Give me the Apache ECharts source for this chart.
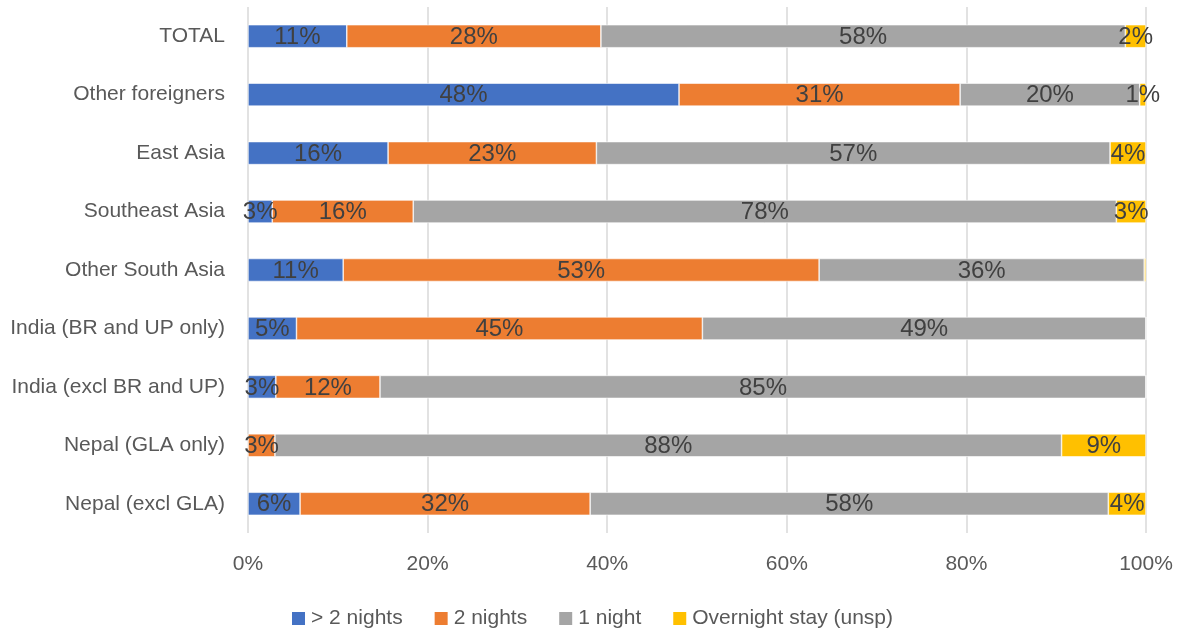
<!DOCTYPE html>
<html>
<head>
<meta charset="utf-8">
<script src="https://cdn.jsdelivr.net/npm/echarts@6/dist/echarts.min.js"></script>
<style>
  html, body { margin: 0; padding: 0; background: #fff; }
  #chart { width: 1183px; height: 630px; }
</style>
</head>
<body>
<div id="chart"></div>
<script>
// categories, top to bottom
const categories = [
    "TOTAL",
    "Other foreigners",
    "East Asia",
    "Southeast Asia",
    "Other South Asia",
    "India (BR and UP only)",
    "India (excl BR and UP)",
    "Nepal (GLA only)",
    "Nepal (excl GLA)",
];
const seriesNames = ["> 2 nights", "2 nights", "1 night", "Overnight stay (unsp)"];
// shares in %
const moreThanTwo = [11.0, 48.0, 15.6, 2.7, 10.6, 5.4, 3.1, 0, 5.8];
const twoNights = [28.3, 31.3, 23.2, 15.7, 53.0, 45.2, 11.6, 3.0, 32.3];
const oneNight = [58.4, 20.0, 57.2, 78.3, 36.2, 49.4, 85.3, 87.6, 57.7];
const unspecified = [2.3, 0.7, 4.0, 3.3, 0.2, 0, 0, 9.4, 4.2];
const xTicks = [0, 20, 40, 60, 80, 100];

const colors = ["#4472C4", "#ED7D31", "#A5A5A5", "#FFC000"];
const font = "'Liberation Sans', Arial, sans-serif";

const chart = echarts.init(document.getElementById("chart"));

const makeSeries = (name, values) => ({
    name: name,
    type: "bar",
    stack: "total",
    barWidth: 23,
    data: values,
    itemStyle: { borderColor: "#fff", borderWidth: 0.6 },
    label: {
        show: true,
        position: "inside",
        color: "#404040",
        fontSize: 24,
        fontFamily: font,
        offset: [0, 1],
        formatter: (p) => (p.value < 0.5 ? "" : Math.round(p.value) + "%"),
    },
});

const option = {
    animation: false,
    color: colors,
    textStyle: { fontFamily: font },
    grid: {
        left: 248,
        right: 37,
        top: 7,
        bottom: 97,
    },
    xAxis: {
        type: "value",
        min: xTicks[0],
        max: xTicks[xTicks.length - 1],
        interval: 20,
        axisLine: { show: false },
        axisTick: { show: false },
        splitLine: { show: true, lineStyle: { color: "#d9d9d9", width: 1.5 } },
        axisLabel: {
            formatter: "{value}%",
            color: "#595959",
            fontSize: 21,
            fontFamily: font,
            margin: 21,
        },
    },
    yAxis: {
        type: "category",
        inverse: true,
        data: categories,
        axisLine: { show: false },
        axisTick: { show: false },
        axisLabel: {
            color: "#595959",
            fontSize: 21,
            fontFamily: font,
            margin: 23,
        },
    },
    legend: {
        top: 603,
        left: "center",
        itemWidth: 15,
        itemHeight: 15,
        itemGap: 30,
        icon: "rect",
        textStyle: { color: "#595959", fontSize: 21, fontFamily: font },
        data: seriesNames,
    },
    series: [
        makeSeries(seriesNames[0], moreThanTwo),
        makeSeries(seriesNames[1], twoNights),
        makeSeries(seriesNames[2], oneNight),
        makeSeries(seriesNames[3], unspecified),
    ],
};
chart.setOption(option);
</script>
</body>
</html>
